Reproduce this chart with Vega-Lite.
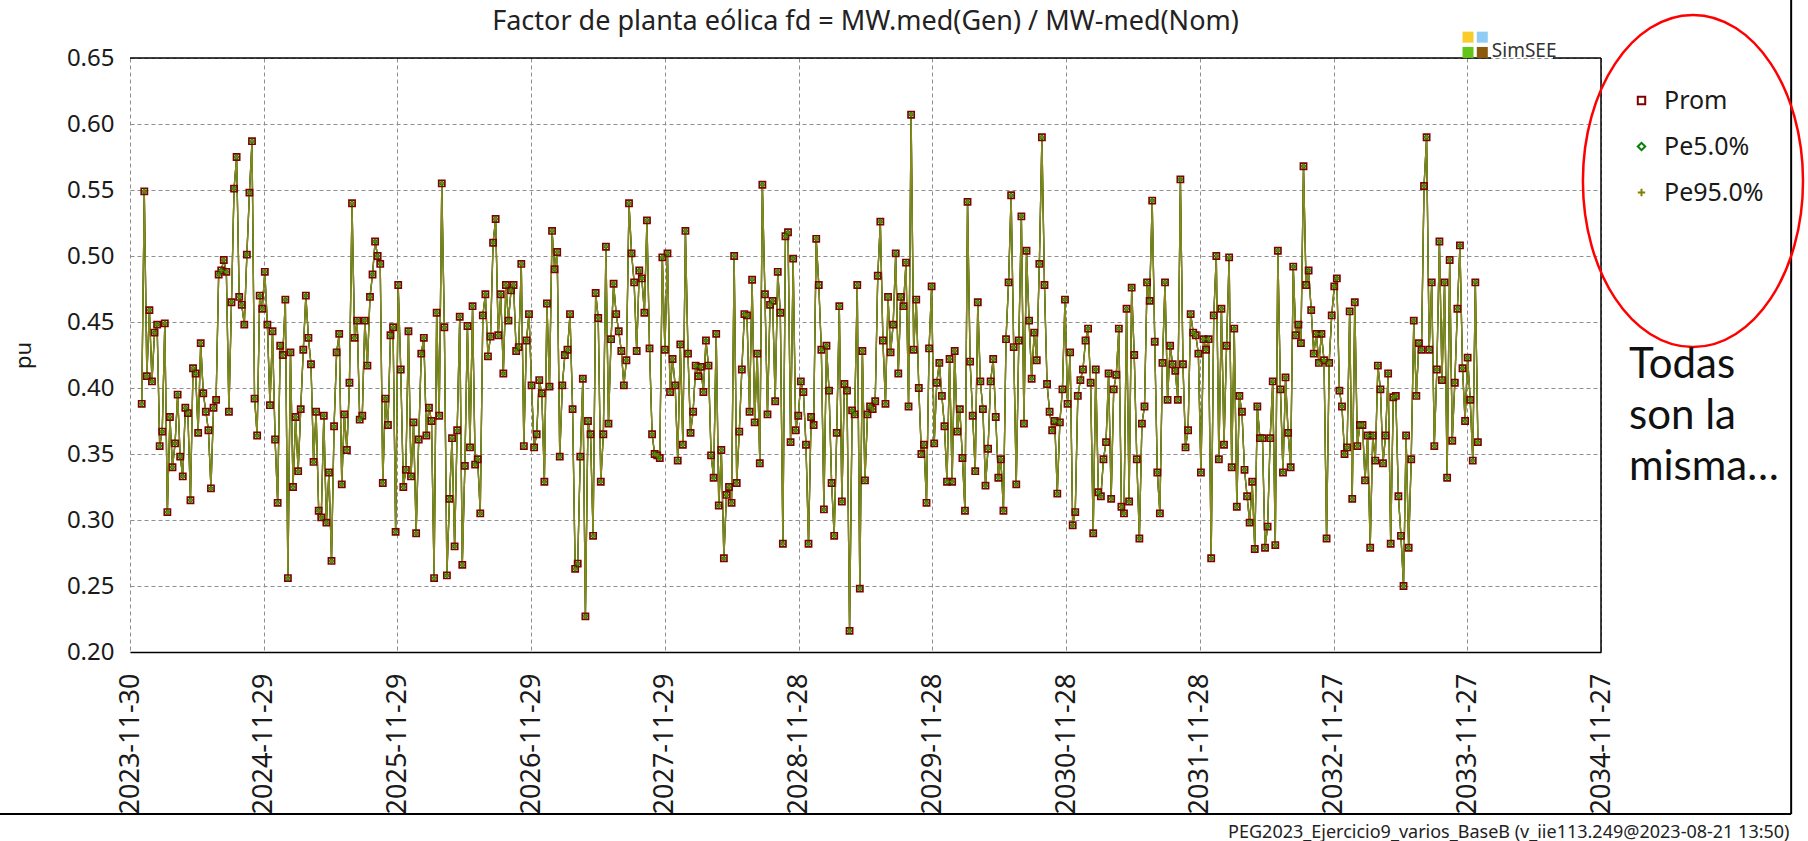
{
"$schema":"https://vega.github.io/schema/vega-lite/v6.json",
"width":1471,"height":594,
"autosize":{"type":"none"},
"padding":{"left":130,"top":58,"right":207,"bottom":189},
"background":"white",
"title":{"text":"Factor de planta eólica fd = MW.med(Gen) / MW-med(Nom)","fontSize":27,"font":"Noto Sans","fontWeight":"normal","color":"#222222","offset":20,"dy":78,"baseline":"alphabetic","anchor":"middle","frame":"group"},
"config":{
"view":{"stroke":null},
"font":"Noto Sans",
"axis":{"labelFont":"Noto Sans","labelColor":"#1a1a1a","titleFont":"Noto Sans","titleColor":"#1a1a1a","titleFontWeight":"normal","gridColor":"#8f8f8f","gridDash":[4,3],"gridWidth":1,"ticks":false},
"legend":{"padding":0,"labelFont":"Noto Sans","labelFontSize":25,"labelColor":"#1a1a1a","labelOffset":10,"rowPadding":20,"symbolSize":55,"symbolStrokeWidth":2,"titleFont":"Lato","titleFontSize":42,"titleFontWeight":"normal","titleColor":"#111111","titleOrient":"bottom","titlePadding":139,"titleLimit":400,"titleLineHeight":51,"titleAnchor":"start"}
},
"data":{"values":[
{"d":"2024-01-01","v":0.388},{"d":"2024-01-08","v":0.549},{"d":"2024-01-15","v":0.409},{"d":"2024-01-22","v":0.459},{"d":"2024-01-29","v":0.405},{"d":"2024-02-05","v":0.442},{"d":"2024-02-12","v":0.448},{"d":"2024-02-19","v":0.356},{"d":"2024-02-26","v":0.367},{"d":"2024-03-04","v":0.449},{"d":"2024-03-11","v":0.306},{"d":"2024-03-18","v":0.378},{"d":"2024-03-25","v":0.340},{"d":"2024-04-01","v":0.358},{"d":"2024-04-08","v":0.395},{"d":"2024-04-15","v":0.348},{"d":"2024-04-22","v":0.333},{"d":"2024-04-29","v":0.385},{"d":"2024-05-06","v":0.381},{"d":"2024-05-13","v":0.315},{"d":"2024-05-20","v":0.415},{"d":"2024-05-27","v":0.411},{"d":"2024-06-03","v":0.366},{"d":"2024-06-10","v":0.434},{"d":"2024-06-17","v":0.396},{"d":"2024-06-24","v":0.382},{"d":"2024-07-01","v":0.368},{"d":"2024-07-08","v":0.324},{"d":"2024-07-15","v":0.385},{"d":"2024-07-22","v":0.391},{"d":"2024-07-29","v":0.486},{"d":"2024-08-05","v":0.489},{"d":"2024-08-12","v":0.497},{"d":"2024-08-19","v":0.488},{"d":"2024-08-26","v":0.382},{"d":"2024-09-02","v":0.465},{"d":"2024-09-09","v":0.551},{"d":"2024-09-16","v":0.575},{"d":"2024-09-23","v":0.469},{"d":"2024-09-30","v":0.463},{"d":"2024-10-07","v":0.448},{"d":"2024-10-14","v":0.501},{"d":"2024-10-21","v":0.548},{"d":"2024-10-28","v":0.587},{"d":"2024-11-04","v":0.392},{"d":"2024-11-11","v":0.364},{"d":"2024-11-18","v":0.470},{"d":"2024-11-25","v":0.460},{"d":"2024-12-02","v":0.488},{"d":"2024-12-09","v":0.448},{"d":"2024-12-16","v":0.387},{"d":"2024-12-23","v":0.443},{"d":"2024-12-30","v":0.361},
{"d":"2025-01-06","v":0.313},{"d":"2025-01-13","v":0.432},{"d":"2025-01-20","v":0.425},{"d":"2025-01-27","v":0.467},{"d":"2025-02-03","v":0.256},{"d":"2025-02-10","v":0.427},{"d":"2025-02-17","v":0.325},{"d":"2025-02-24","v":0.378},{"d":"2025-03-03","v":0.337},{"d":"2025-03-10","v":0.384},{"d":"2025-03-17","v":0.429},{"d":"2025-03-24","v":0.470},{"d":"2025-03-31","v":0.438},{"d":"2025-04-07","v":0.418},{"d":"2025-04-14","v":0.344},{"d":"2025-04-21","v":0.382},{"d":"2025-04-28","v":0.307},{"d":"2025-05-05","v":0.302},{"d":"2025-05-12","v":0.379},{"d":"2025-05-19","v":0.298},{"d":"2025-05-26","v":0.336},{"d":"2025-06-02","v":0.269},{"d":"2025-06-09","v":0.371},{"d":"2025-06-16","v":0.427},{"d":"2025-06-23","v":0.441},{"d":"2025-06-30","v":0.327},{"d":"2025-07-07","v":0.380},{"d":"2025-07-14","v":0.353},{"d":"2025-07-21","v":0.404},{"d":"2025-07-28","v":0.540},{"d":"2025-08-04","v":0.438},{"d":"2025-08-11","v":0.451},{"d":"2025-08-18","v":0.376},{"d":"2025-08-25","v":0.379},{"d":"2025-09-01","v":0.451},{"d":"2025-09-08","v":0.417},{"d":"2025-09-15","v":0.469},{"d":"2025-09-22","v":0.486},{"d":"2025-09-29","v":0.511},{"d":"2025-10-06","v":0.500},{"d":"2025-10-13","v":0.494},{"d":"2025-10-20","v":0.328},{"d":"2025-10-27","v":0.392},{"d":"2025-11-03","v":0.372},{"d":"2025-11-10","v":0.440},{"d":"2025-11-17","v":0.446},{"d":"2025-11-24","v":0.291},{"d":"2025-12-01","v":0.478},{"d":"2025-12-08","v":0.414},{"d":"2025-12-15","v":0.325},{"d":"2025-12-22","v":0.338},{"d":"2025-12-29","v":0.443},
{"d":"2026-01-05","v":0.333},{"d":"2026-01-12","v":0.374},{"d":"2026-01-19","v":0.290},{"d":"2026-01-26","v":0.361},{"d":"2026-02-02","v":0.426},{"d":"2026-02-09","v":0.438},{"d":"2026-02-16","v":0.364},{"d":"2026-02-23","v":0.385},{"d":"2026-03-02","v":0.375},{"d":"2026-03-09","v":0.256},{"d":"2026-03-16","v":0.457},{"d":"2026-03-23","v":0.379},{"d":"2026-03-30","v":0.555},{"d":"2026-04-06","v":0.446},{"d":"2026-04-13","v":0.258},{"d":"2026-04-20","v":0.316},{"d":"2026-04-27","v":0.362},{"d":"2026-05-04","v":0.280},{"d":"2026-05-11","v":0.368},{"d":"2026-05-18","v":0.454},{"d":"2026-05-25","v":0.266},{"d":"2026-06-01","v":0.341},{"d":"2026-06-08","v":0.447},{"d":"2026-06-15","v":0.355},{"d":"2026-06-22","v":0.462},{"d":"2026-06-29","v":0.342},{"d":"2026-07-06","v":0.346},{"d":"2026-07-13","v":0.305},{"d":"2026-07-20","v":0.455},{"d":"2026-07-27","v":0.471},{"d":"2026-08-03","v":0.424},{"d":"2026-08-10","v":0.439},{"d":"2026-08-17","v":0.510},{"d":"2026-08-24","v":0.528},{"d":"2026-08-31","v":0.440},{"d":"2026-09-07","v":0.471},{"d":"2026-09-14","v":0.411},{"d":"2026-09-21","v":0.478},{"d":"2026-09-28","v":0.451},{"d":"2026-10-05","v":0.474},{"d":"2026-10-12","v":0.478},{"d":"2026-10-19","v":0.428},{"d":"2026-10-26","v":0.431},{"d":"2026-11-02","v":0.494},{"d":"2026-11-09","v":0.356},{"d":"2026-11-16","v":0.436},{"d":"2026-11-23","v":0.456},{"d":"2026-11-30","v":0.402},{"d":"2026-12-07","v":0.355},{"d":"2026-12-14","v":0.365},{"d":"2026-12-21","v":0.406},{"d":"2026-12-28","v":0.396},
{"d":"2027-01-04","v":0.329},{"d":"2027-01-11","v":0.464},{"d":"2027-01-18","v":0.401},{"d":"2027-01-25","v":0.519},{"d":"2027-02-01","v":0.490},{"d":"2027-02-08","v":0.503},{"d":"2027-02-15","v":0.348},{"d":"2027-02-22","v":0.402},{"d":"2027-03-01","v":0.425},{"d":"2027-03-08","v":0.429},{"d":"2027-03-15","v":0.456},{"d":"2027-03-22","v":0.384},{"d":"2027-03-29","v":0.263},{"d":"2027-04-05","v":0.267},{"d":"2027-04-12","v":0.348},{"d":"2027-04-19","v":0.407},{"d":"2027-04-26","v":0.227},{"d":"2027-05-03","v":0.375},{"d":"2027-05-10","v":0.365},{"d":"2027-05-17","v":0.288},{"d":"2027-05-24","v":0.472},{"d":"2027-05-31","v":0.453},{"d":"2027-06-07","v":0.329},{"d":"2027-06-14","v":0.365},{"d":"2027-06-21","v":0.507},{"d":"2027-06-28","v":0.373},{"d":"2027-07-05","v":0.437},{"d":"2027-07-12","v":0.479},{"d":"2027-07-19","v":0.456},{"d":"2027-07-26","v":0.443},{"d":"2027-08-02","v":0.428},{"d":"2027-08-09","v":0.402},{"d":"2027-08-16","v":0.421},{"d":"2027-08-23","v":0.540},{"d":"2027-08-30","v":0.502},{"d":"2027-09-06","v":0.480},{"d":"2027-09-13","v":0.428},{"d":"2027-09-20","v":0.489},{"d":"2027-09-27","v":0.483},{"d":"2027-10-04","v":0.457},{"d":"2027-10-11","v":0.527},{"d":"2027-10-18","v":0.430},{"d":"2027-10-25","v":0.365},{"d":"2027-11-01","v":0.350},{"d":"2027-11-08","v":0.349},{"d":"2027-11-15","v":0.347},{"d":"2027-11-22","v":0.499},{"d":"2027-11-29","v":0.429},{"d":"2027-12-06","v":0.502},{"d":"2027-12-13","v":0.397},{"d":"2027-12-20","v":0.422},{"d":"2027-12-27","v":0.402},
{"d":"2028-01-03","v":0.345},{"d":"2028-01-10","v":0.433},{"d":"2028-01-17","v":0.357},{"d":"2028-01-24","v":0.519},{"d":"2028-01-31","v":0.426},{"d":"2028-02-07","v":0.366},{"d":"2028-02-14","v":0.382},{"d":"2028-02-21","v":0.417},{"d":"2028-02-28","v":0.409},{"d":"2028-03-06","v":0.416},{"d":"2028-03-13","v":0.397},{"d":"2028-03-20","v":0.436},{"d":"2028-03-27","v":0.417},{"d":"2028-04-03","v":0.349},{"d":"2028-04-10","v":0.332},{"d":"2028-04-17","v":0.441},{"d":"2028-04-24","v":0.311},{"d":"2028-05-01","v":0.353},{"d":"2028-05-08","v":0.271},{"d":"2028-05-15","v":0.319},{"d":"2028-05-22","v":0.325},{"d":"2028-05-29","v":0.313},{"d":"2028-06-05","v":0.500},{"d":"2028-06-12","v":0.328},{"d":"2028-06-19","v":0.367},{"d":"2028-06-26","v":0.414},{"d":"2028-07-03","v":0.456},{"d":"2028-07-10","v":0.455},{"d":"2028-07-17","v":0.382},{"d":"2028-07-24","v":0.482},{"d":"2028-07-31","v":0.374},{"d":"2028-08-07","v":0.426},{"d":"2028-08-14","v":0.343},{"d":"2028-08-21","v":0.554},{"d":"2028-08-28","v":0.471},{"d":"2028-09-04","v":0.380},{"d":"2028-09-11","v":0.463},{"d":"2028-09-18","v":0.466},{"d":"2028-09-25","v":0.390},{"d":"2028-10-02","v":0.488},{"d":"2028-10-09","v":0.457},{"d":"2028-10-16","v":0.282},{"d":"2028-10-23","v":0.515},{"d":"2028-10-30","v":0.518},{"d":"2028-11-06","v":0.359},{"d":"2028-11-13","v":0.498},{"d":"2028-11-20","v":0.368},{"d":"2028-11-27","v":0.379},{"d":"2028-12-04","v":0.405},{"d":"2028-12-11","v":0.397},{"d":"2028-12-18","v":0.357},{"d":"2028-12-25","v":0.282},
{"d":"2029-01-01","v":0.378},{"d":"2029-01-08","v":0.372},{"d":"2029-01-15","v":0.513},{"d":"2029-01-22","v":0.478},{"d":"2029-01-29","v":0.429},{"d":"2029-02-05","v":0.308},{"d":"2029-02-12","v":0.432},{"d":"2029-02-19","v":0.398},{"d":"2029-02-26","v":0.328},{"d":"2029-03-05","v":0.288},{"d":"2029-03-12","v":0.366},{"d":"2029-03-19","v":0.462},{"d":"2029-03-26","v":0.314},{"d":"2029-04-02","v":0.403},{"d":"2029-04-09","v":0.398},{"d":"2029-04-16","v":0.216},{"d":"2029-04-23","v":0.383},{"d":"2029-04-30","v":0.380},{"d":"2029-05-07","v":0.478},{"d":"2029-05-14","v":0.248},{"d":"2029-05-21","v":0.428},{"d":"2029-05-28","v":0.330},{"d":"2029-06-04","v":0.380},{"d":"2029-06-11","v":0.386},{"d":"2029-06-18","v":0.384},{"d":"2029-06-25","v":0.390},{"d":"2029-07-02","v":0.485},{"d":"2029-07-09","v":0.526},{"d":"2029-07-16","v":0.436},{"d":"2029-07-23","v":0.388},{"d":"2029-07-30","v":0.469},{"d":"2029-08-06","v":0.427},{"d":"2029-08-13","v":0.448},{"d":"2029-08-20","v":0.502},{"d":"2029-08-27","v":0.411},{"d":"2029-09-03","v":0.469},{"d":"2029-09-10","v":0.462},{"d":"2029-09-17","v":0.495},{"d":"2029-09-24","v":0.386},{"d":"2029-10-01","v":0.607},{"d":"2029-10-08","v":0.429},{"d":"2029-10-15","v":0.467},{"d":"2029-10-22","v":0.400},{"d":"2029-10-29","v":0.350},{"d":"2029-11-05","v":0.357},{"d":"2029-11-12","v":0.313},{"d":"2029-11-19","v":0.430},{"d":"2029-11-26","v":0.477},{"d":"2029-12-03","v":0.358},{"d":"2029-12-10","v":0.404},{"d":"2029-12-17","v":0.419},{"d":"2029-12-24","v":0.394},{"d":"2029-12-31","v":0.371},
{"d":"2030-01-07","v":0.329},{"d":"2030-01-14","v":0.422},{"d":"2030-01-21","v":0.329},{"d":"2030-01-28","v":0.428},{"d":"2030-02-04","v":0.367},{"d":"2030-02-11","v":0.384},{"d":"2030-02-18","v":0.347},{"d":"2030-02-25","v":0.307},{"d":"2030-03-04","v":0.541},{"d":"2030-03-11","v":0.420},{"d":"2030-03-18","v":0.379},{"d":"2030-03-25","v":0.337},{"d":"2030-04-01","v":0.465},{"d":"2030-04-08","v":0.405},{"d":"2030-04-15","v":0.384},{"d":"2030-04-22","v":0.326},{"d":"2030-04-29","v":0.354},{"d":"2030-05-06","v":0.405},{"d":"2030-05-13","v":0.422},{"d":"2030-05-20","v":0.378},{"d":"2030-05-27","v":0.332},{"d":"2030-06-03","v":0.346},{"d":"2030-06-10","v":0.307},{"d":"2030-06-17","v":0.437},{"d":"2030-06-24","v":0.480},{"d":"2030-07-01","v":0.546},{"d":"2030-07-08","v":0.431},{"d":"2030-07-15","v":0.327},{"d":"2030-07-22","v":0.436},{"d":"2030-07-29","v":0.530},{"d":"2030-08-05","v":0.373},{"d":"2030-08-12","v":0.504},{"d":"2030-08-19","v":0.451},{"d":"2030-08-26","v":0.407},{"d":"2030-09-02","v":0.442},{"d":"2030-09-09","v":0.421},{"d":"2030-09-16","v":0.494},{"d":"2030-09-23","v":0.590},{"d":"2030-09-30","v":0.478},{"d":"2030-10-07","v":0.403},{"d":"2030-10-14","v":0.382},{"d":"2030-10-21","v":0.368},{"d":"2030-10-28","v":0.375},{"d":"2030-11-04","v":0.320},{"d":"2030-11-11","v":0.374},{"d":"2030-11-18","v":0.399},{"d":"2030-11-25","v":0.467},{"d":"2030-12-02","v":0.388},{"d":"2030-12-09","v":0.427},{"d":"2030-12-16","v":0.296},{"d":"2030-12-23","v":0.306},{"d":"2030-12-30","v":0.394},
{"d":"2031-01-06","v":0.406},{"d":"2031-01-13","v":0.414},{"d":"2031-01-20","v":0.436},{"d":"2031-01-27","v":0.445},{"d":"2031-02-03","v":0.404},{"d":"2031-02-10","v":0.290},{"d":"2031-02-17","v":0.414},{"d":"2031-02-24","v":0.321},{"d":"2031-03-03","v":0.318},{"d":"2031-03-10","v":0.346},{"d":"2031-03-17","v":0.359},{"d":"2031-03-24","v":0.411},{"d":"2031-03-31","v":0.316},{"d":"2031-04-07","v":0.399},{"d":"2031-04-14","v":0.410},{"d":"2031-04-21","v":0.445},{"d":"2031-04-28","v":0.310},{"d":"2031-05-05","v":0.305},{"d":"2031-05-12","v":0.460},{"d":"2031-05-19","v":0.314},{"d":"2031-05-26","v":0.476},{"d":"2031-06-02","v":0.425},{"d":"2031-06-09","v":0.346},{"d":"2031-06-16","v":0.286},{"d":"2031-06-23","v":0.373},{"d":"2031-06-30","v":0.386},{"d":"2031-07-07","v":0.480},{"d":"2031-07-14","v":0.466},{"d":"2031-07-21","v":0.542},{"d":"2031-07-28","v":0.435},{"d":"2031-08-04","v":0.336},{"d":"2031-08-11","v":0.305},{"d":"2031-08-18","v":0.419},{"d":"2031-08-25","v":0.480},{"d":"2031-09-01","v":0.391},{"d":"2031-09-08","v":0.432},{"d":"2031-09-15","v":0.418},{"d":"2031-09-22","v":0.413},{"d":"2031-09-29","v":0.391},{"d":"2031-10-06","v":0.558},{"d":"2031-10-13","v":0.418},{"d":"2031-10-20","v":0.355},{"d":"2031-10-27","v":0.368},{"d":"2031-11-03","v":0.456},{"d":"2031-11-10","v":0.442},{"d":"2031-11-17","v":0.440},{"d":"2031-11-24","v":0.426},{"d":"2031-12-01","v":0.336},{"d":"2031-12-08","v":0.437},{"d":"2031-12-15","v":0.429},{"d":"2031-12-22","v":0.437},{"d":"2031-12-29","v":0.271},
{"d":"2032-01-05","v":0.455},{"d":"2032-01-12","v":0.500},{"d":"2032-01-19","v":0.346},{"d":"2032-01-26","v":0.460},{"d":"2032-02-02","v":0.357},{"d":"2032-02-09","v":0.432},{"d":"2032-02-16","v":0.499},{"d":"2032-02-23","v":0.340},{"d":"2032-03-01","v":0.445},{"d":"2032-03-08","v":0.310},{"d":"2032-03-15","v":0.394},{"d":"2032-03-22","v":0.382},{"d":"2032-03-29","v":0.338},{"d":"2032-04-05","v":0.318},{"d":"2032-04-12","v":0.298},{"d":"2032-04-19","v":0.329},{"d":"2032-04-26","v":0.278},{"d":"2032-05-03","v":0.386},{"d":"2032-05-10","v":0.362},{"d":"2032-05-17","v":0.362},{"d":"2032-05-24","v":0.279},{"d":"2032-05-31","v":0.295},{"d":"2032-06-07","v":0.362},{"d":"2032-06-14","v":0.405},{"d":"2032-06-21","v":0.281},{"d":"2032-06-28","v":0.504},{"d":"2032-07-05","v":0.399},{"d":"2032-07-12","v":0.336},{"d":"2032-07-19","v":0.408},{"d":"2032-07-26","v":0.366},{"d":"2032-08-02","v":0.340},{"d":"2032-08-09","v":0.492},{"d":"2032-08-16","v":0.440},{"d":"2032-08-23","v":0.448},{"d":"2032-08-30","v":0.434},{"d":"2032-09-06","v":0.568},{"d":"2032-09-13","v":0.478},{"d":"2032-09-20","v":0.489},{"d":"2032-09-27","v":0.459},{"d":"2032-10-04","v":0.426},{"d":"2032-10-11","v":0.441},{"d":"2032-10-18","v":0.419},{"d":"2032-10-25","v":0.441},{"d":"2032-11-01","v":0.421},{"d":"2032-11-08","v":0.286},{"d":"2032-11-15","v":0.419},{"d":"2032-11-22","v":0.455},{"d":"2032-11-29","v":0.477},{"d":"2032-12-06","v":0.483},{"d":"2032-12-13","v":0.398},{"d":"2032-12-20","v":0.386},{"d":"2032-12-27","v":0.350},
{"d":"2033-01-03","v":0.355},{"d":"2033-01-10","v":0.458},{"d":"2033-01-17","v":0.316},{"d":"2033-01-24","v":0.465},{"d":"2033-01-31","v":0.356},{"d":"2033-02-07","v":0.372},{"d":"2033-02-14","v":0.372},{"d":"2033-02-21","v":0.330},{"d":"2033-02-28","v":0.364},{"d":"2033-03-07","v":0.279},{"d":"2033-03-14","v":0.364},{"d":"2033-03-21","v":0.345},{"d":"2033-03-28","v":0.417},{"d":"2033-04-04","v":0.399},{"d":"2033-04-11","v":0.343},{"d":"2033-04-18","v":0.364},{"d":"2033-04-25","v":0.411},{"d":"2033-05-02","v":0.282},{"d":"2033-05-09","v":0.393},{"d":"2033-05-16","v":0.394},{"d":"2033-05-23","v":0.318},{"d":"2033-05-30","v":0.288},{"d":"2033-06-06","v":0.250},{"d":"2033-06-13","v":0.364},{"d":"2033-06-20","v":0.279},{"d":"2033-06-27","v":0.346},{"d":"2033-07-04","v":0.451},{"d":"2033-07-11","v":0.394},{"d":"2033-07-18","v":0.434},{"d":"2033-07-25","v":0.429},{"d":"2033-08-01","v":0.553},{"d":"2033-08-08","v":0.590},{"d":"2033-08-15","v":0.429},{"d":"2033-08-22","v":0.480},{"d":"2033-08-29","v":0.356},{"d":"2033-09-05","v":0.414},{"d":"2033-09-12","v":0.511},{"d":"2033-09-19","v":0.406},{"d":"2033-09-26","v":0.480},{"d":"2033-10-03","v":0.332},{"d":"2033-10-10","v":0.497},{"d":"2033-10-17","v":0.360},{"d":"2033-10-24","v":0.404},{"d":"2033-10-31","v":0.460},{"d":"2033-11-07","v":0.508},{"d":"2033-11-14","v":0.415},{"d":"2033-11-21","v":0.375},{"d":"2033-11-28","v":0.423},{"d":"2033-12-05","v":0.391},{"d":"2033-12-12","v":0.345},{"d":"2033-12-19","v":0.480},{"d":"2033-12-26","v":0.359}
]},
"layer":[
{"mark":{"type":"line","color":"#800000","strokeWidth":1.3},
 "encoding":{
  "x":{"field":"d","type":"temporal",
   "scale":{"domain":[{"year":2023,"month":11,"date":30},{"year":2034,"month":11,"date":27}]},
   "axis":{"values":[{"year":2023,"month":11,"date":30},{"year":2024,"month":11,"date":29},{"year":2025,"month":11,"date":29},{"year":2026,"month":11,"date":29},{"year":2027,"month":11,"date":29},{"year":2028,"month":11,"date":28},{"year":2029,"month":11,"date":28},{"year":2030,"month":11,"date":28},{"year":2031,"month":11,"date":28},{"year":2032,"month":11,"date":27},{"year":2033,"month":11,"date":27},{"year":2034,"month":11,"date":27}],
    "format":"%Y-%m-%d","labelAngle":-90,"labelFontSize":27,"labelPadding":21,"labelFlush":false,"labelOverlap":false,"grid":true,"domain":true,"domainColor":"#000000","domainWidth":1.5,"ticks":false,
    "title":"PEG2023_Ejercicio9_varios_BaseB (v_iie113.249@2023-08-21 13:50)","titleFontSize":18,"titleX":1659,"titleY":185,"titleAlign":"right","titleBaseline":"alphabetic","titleColor":"#222222"}},
  "y":{"field":"v","type":"quantitative",
   "scale":{"domain":[0.2,0.65],"nice":false,"zero":false},
   "axis":{"values":[0.2,0.25,0.3,0.35,0.4,0.45,0.5,0.55,0.6,0.65],"format":".2f","labelFontSize":24,"labelPadding":16,"labelFlush":false,"grid":true,"domain":false,"ticks":false,
    "title":"pu","titleFontSize":22,"titleX":-107,"titleY":297,"titleAngle":-90,"titleAlign":"center","titleBaseline":"middle"}}}},
{"mark":{"type":"line","color":"#008000","strokeWidth":1.3},
 "encoding":{"x":{"field":"d","type":"temporal"},"y":{"field":"v","type":"quantitative"}}},
{"mark":{"type":"line","color":"#8a8a1c","strokeWidth":1.3},
 "encoding":{"x":{"field":"d","type":"temporal"},"y":{"field":"v","type":"quantitative"}}},
{"mark":{"type":"point","filled":false,"opacity":1,"size":38,"strokeWidth":1.7},
 "encoding":{"x":{"field":"d","type":"temporal"},"y":{"field":"v","type":"quantitative"},
  "color":{"datum":"Prom","type":"nominal","scale":{"domain":["Prom","Pe5.0%","Pe95.0%"],"range":["#800000","#008000","#808000"]},
   "legend":{"orient":"none","legendX":1499,"legendY":30,"title":["Todas","son la","misma…"]}},
  "shape":{"datum":"Prom","type":"nominal","scale":{"domain":["Prom","Pe5.0%","Pe95.0%"],"range":["square","diamond","M-1,0H1M0,-1V1"]},
   "legend":{"orient":"none","legendX":1499,"legendY":30,"title":["Todas","son la","misma…"]}}}},
{"mark":{"type":"point","filled":false,"opacity":1,"size":20,"strokeWidth":1.2},
 "encoding":{"x":{"field":"d","type":"temporal"},"y":{"field":"v","type":"quantitative"},
  "color":{"datum":"Pe5.0%","type":"nominal"},"shape":{"datum":"Pe5.0%","type":"nominal"}}},
{"mark":{"type":"point","filled":false,"opacity":1,"size":18,"strokeWidth":1.2},
 "encoding":{"x":{"field":"d","type":"temporal"},"y":{"field":"v","type":"quantitative"},
  "color":{"datum":"Pe95.0%","type":"nominal"},"shape":{"datum":"Pe95.0%","type":"nominal"}}},
{"data":{"values":[{}]},"mark":{"type":"rule","color":"#000000","strokeWidth":1.5},
 "encoding":{"x":{"datum":{"year":2023,"month":11,"date":30},"type":"temporal"},"x2":{"datum":{"year":2034,"month":1,"date":31}},"y":{"datum":0.65,"type":"quantitative"}}},
{"data":{"values":[{}]},"mark":{"type":"rule","color":"#000000","strokeWidth":1.5},
 "encoding":{"x":{"datum":{"year":2034,"month":7,"date":19},"type":"temporal"},"x2":{"datum":{"year":2034,"month":11,"date":27}},"y":{"datum":0.65,"type":"quantitative"}}},
{"data":{"values":[{}]},"mark":{"type":"rule","color":"#000000","strokeWidth":1.5},
 "encoding":{"x":{"datum":{"year":2034,"month":11,"date":27},"type":"temporal"}}},
{"data":{"values":[{}]},"mark":{"type":"rule","color":"#000000","strokeWidth":2},
 "encoding":{"x":{"datum":{"year":2036,"month":4,"date":29},"type":"temporal"},"y":{"datum":0.694,"type":"quantitative"},"y2":{"datum":0.0773}}},
{"data":{"values":[{}]},"mark":{"type":"rule","color":"#000000","strokeWidth":2},
 "encoding":{"x":{"datum":{"year":2022,"month":12,"date":10},"type":"temporal"},"x2":{"datum":{"year":2036,"month":4,"date":29}},"y":{"datum":0.0773,"type":"quantitative"}}},
{"data":{"values":[{}]},"mark":{"type":"point","shape":"M-0.663,0A0.663,1,0,1,0,0.663,0A0.663,1,0,1,0,-0.663,0Z","size":110224,"filled":false,"opacity":1,"color":"#ff0000","strokeWidth":2.5},
 "encoding":{"x":{"datum":{"year":2035,"month":8,"date":5},"type":"temporal"},"y":{"datum":0.5568,"type":"quantitative"}}},
{"data":{"values":[{}]},"mark":{"type":"point","shape":"square","size":121,"filled":true,"opacity":1,"color":"#f9cc2a"},
 "encoding":{"x":{"datum":{"year":2033,"month":11,"date":29},"type":"temporal"},"y":{"datum":0.6658,"type":"quantitative"}}},
{"data":{"values":[{}]},"mark":{"type":"point","shape":"square","size":121,"filled":true,"opacity":1,"color":"#8fcdf5"},
 "encoding":{"x":{"datum":{"year":2034,"month":1,"date":7},"type":"temporal"},"y":{"datum":0.6658,"type":"quantitative"}}},
{"data":{"values":[{}]},"mark":{"type":"point","shape":"square","size":121,"filled":true,"opacity":1,"color":"#62c41a"},
 "encoding":{"x":{"datum":{"year":2033,"month":11,"date":29},"type":"temporal"},"y":{"datum":0.6542,"type":"quantitative"}}},
{"data":{"values":[{}]},"mark":{"type":"point","shape":"square","size":121,"filled":true,"opacity":1,"color":"#8c5a0c"},
 "encoding":{"x":{"datum":{"year":2034,"month":1,"date":7},"type":"temporal"},"y":{"datum":0.6542,"type":"quantitative"}}},
{"data":{"values":[{}]},"mark":{"type":"text","text":"SimSEE","align":"left","baseline":"alphabetic","fontSize":19,"font":"Noto Sans","color":"#333333"},
 "encoding":{"x":{"datum":{"year":2034,"month":2,"date":2},"type":"temporal"},"y":{"datum":0.6508,"type":"quantitative"}}}
]
}
